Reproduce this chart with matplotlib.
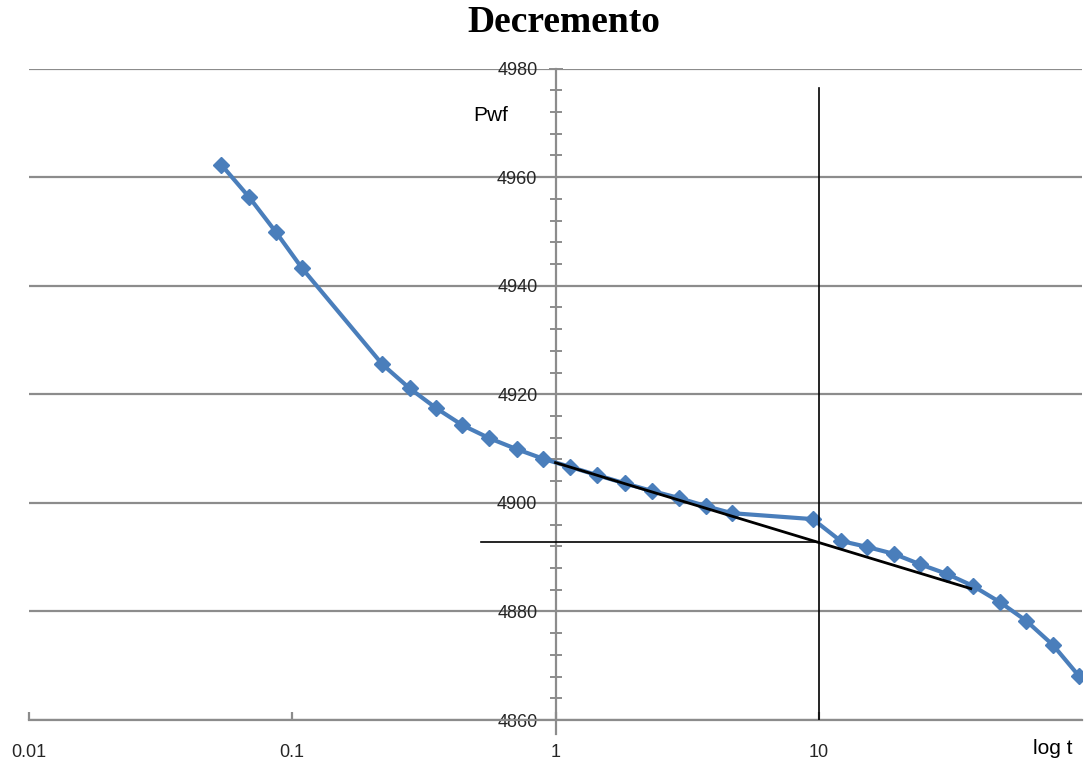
import matplotlib.pyplot as plt
from matplotlib.ticker import FixedLocator, MultipleLocator, NullFormatter

# pressure drawdown data
t_vals = [0.0537, 0.0686, 0.0869, 0.109, 0.220, 0.279, 0.353, 0.443, 0.561, 0.711,
          0.90, 1.14, 1.44, 1.83, 2.32, 2.94, 3.72, 4.67, 9.49, 12.1,
          15.2, 19.3, 24.2, 30.7, 38.5, 48.8, 61.3, 77.6, 97.4]
pwf_vals = [4962.3, 4956.3, 4949.8, 4943.2, 4925.5, 4921.1, 4917.4, 4914.3, 4911.9, 4909.9,
            4908.1, 4906.6, 4905.1, 4903.6, 4902.2, 4900.9, 4899.4, 4898.1, 4897.0, 4893.0,
            4891.9, 4890.6, 4888.7, 4886.9, 4884.7, 4881.7, 4878.3, 4873.8, 4868.1]

# straight-line fit and construction lines
fit_t = [1.0, 37.8]
fit_p = [4907.4, 4884.2]
hline_t = [0.52, 10.0]
hline_p = 4892.7
vline_t = 10.0
vline_p = [4860, 4976.5]

xtick_vals = [0.01, 0.1, 1, 10]
xtick_labels = ['0.01', '0.1', '1', '10']

fig = plt.figure(figsize=(10.86, 7.71), dpi=100)
ax = fig.add_axes([29 / 1086, 1 - 720 / 771, 1053 / 1086, (720 - 68.5) / 771])

ax.set_xscale('log')
ax.set_xlim(0.01, 100)
ax.set_ylim(4860, 4980)

grid_col = '#8c8c8c'
ax.yaxis.grid(True, color=grid_col, lw=1.6)
ax.set_axisbelow(True)

for s in ['top', 'right']:
    ax.spines[s].set_visible(False)
ax.spines['left'].set_position(('data', 1))
ax.spines['left'].set_color(grid_col)
ax.spines['left'].set_linewidth(1.6)
ax.spines['left'].set_bounds(4857.5, 4980)
ax.spines['bottom'].set_color(grid_col)
ax.spines['bottom'].set_linewidth(1.6)

ax.xaxis.set_major_locator(FixedLocator(xtick_vals))
ax.set_xticklabels(xtick_labels)
ax.xaxis.set_minor_formatter(NullFormatter())
ax.tick_params(axis='x', which='minor', length=0)
ax.tick_params(axis='x', which='major', direction='in', length=6, width=1.6,
               color=grid_col, pad=17, labelsize=13, labelcolor='#262626')

ax.yaxis.set_major_locator(MultipleLocator(20))
ax.yaxis.set_minor_locator(MultipleLocator(4))
ax.tick_params(axis='y', which='both', direction='inout', length=10, width=1.4,
               color=grid_col, labelsize=13, labelcolor='#262626', pad=8)
ax.tick_params(axis='y', which='minor', length=8)
for lab in ax.get_xticklabels() + ax.get_yticklabels():
    lab.set_family('Liberation Sans')

ax.plot(t_vals, pwf_vals, color='#4a7ebb', lw=3, marker='D', ms=8,
        mec='#4a7ebb', mfc='#4a7ebb', zorder=3)
ax.plot(fit_t, fit_p, color='black', lw=2, zorder=4)
ax.plot(hline_t, [hline_p, hline_p], color='black', lw=1.2, zorder=4)
ax.plot([vline_t, vline_t], vline_p, color='black', lw=1.2, zorder=4)

ax.text(0.488, 4971.4, 'Pwf', fontsize=15, family='Liberation Sans', va='center')
fig.text(1033 / 1086, 1 - 748 / 771, 'log t', fontsize=15, family='Liberation Sans',
         va='center', ha='left')
fig.text(564 / 1086, 1 - 23 / 771, 'Decremento', fontsize=27, family='Liberation Serif',
         weight='bold', ha='center', va='center')

fig.savefig('out.png', dpi=100)
plt.close(fig)
